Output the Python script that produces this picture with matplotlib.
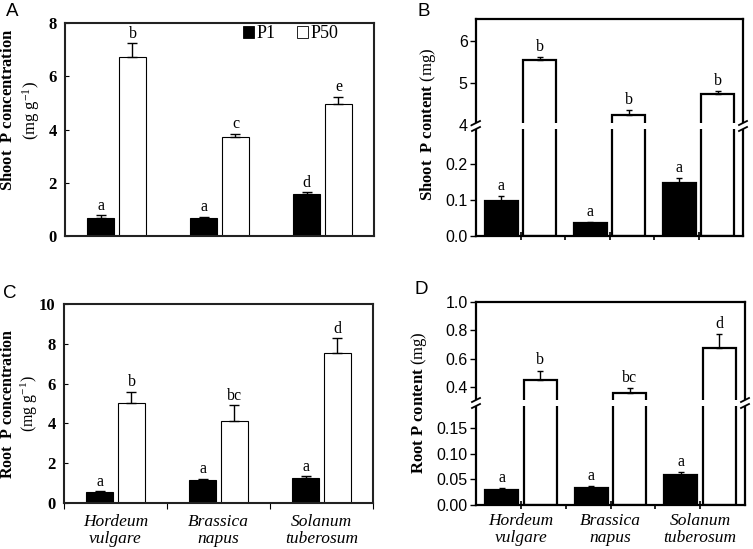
import matplotlib
matplotlib.use("Agg")
import matplotlib.pyplot as plt
from matplotlib.patches import Rectangle, Patch
from matplotlib.lines import Line2D
from matplotlib.ticker import FixedLocator, FormatStrFormatter
import numpy as np

plt.rcParams['mathtext.fontset'] = 'custom'
plt.rcParams['mathtext.rm'] = 'Liberation Serif'
plt.rcParams['mathtext.bf'] = 'Liberation Serif:bold'
plt.rcParams['mathtext.it'] = 'Liberation Serif:italic'

W, H = 753, 549
species = ["Hordeum\nvulgare", "Brassica\nnapus", "Solanum\ntuberosum"]
treatments = ["P1", "P50"]

# Panel A: shoot P concentration (mg g-1)
a_p1 = [0.68, 0.66, 1.58]
a_p1_err = [0.10, 0.06, 0.07]
a_p50 = [6.74, 3.70, 4.97]
a_p50_err = [0.50, 0.14, 0.26]
a_p1_let = ["a", "a", "d"]
a_p50_let = ["b", "c", "e"]

# Panel B: shoot P content (mg)
b_p1 = [0.097, 0.035, 0.147]
b_p1_err = [0.013, 0.004, 0.013]
b_p50 = [5.55, 4.25, 4.74]
b_p50_err = [0.06, 0.11, 0.08]
b_p1_let = ["a", "a", "a"]
b_p50_let = ["b", "b", "b"]

# Panel C: root P concentration (mg g-1)
c_p1 = [0.55, 1.18, 1.25]
c_p1_err = [0.05, 0.04, 0.09]
c_p50 = [5.05, 4.13, 7.52]
c_p50_err = [0.55, 0.80, 0.75]
c_p1_let = ["a", "a", "a"]
c_p50_let = ["b", "bc", "d"]

# Panel D: root P content (mg)
d_p1 = [0.030, 0.033, 0.058]
d_p1_err = [0.003, 0.004, 0.007]
d_p50 = [0.445, 0.358, 0.675]
d_p50_err = [0.07, 0.035, 0.10]
d_p1_let = ["a", "a", "a"]
d_p50_let = ["b", "bc", "d"]

SERIF = "Liberation Serif"
SANS = "Liberation Sans"

fig = plt.figure(figsize=(W / 100, H / 100), dpi=100)


def px_axes(l, t, r, b):
    return fig.add_axes([l / W, 1 - b / H, (r - l) / W, (b - t) / H])


def fx(x):
    return x / W


def fy(y):
    return 1 - y / H


x = np.arange(3)


def draw_bars(ax, p1, p1e, p50, p50e, width, off, lw, capsize, letters=None, let_fs=11.5):
    ax.bar(x - off, p1, width, color="black", edgecolor="black", linewidth=lw, zorder=2)
    ax.errorbar(x - off, p1, yerr=[np.zeros(3), p1e], fmt="none", ecolor="black",
                elinewidth=1.0, capsize=capsize, capthick=1.0, zorder=3)
    ax.bar(x + off, p50, width, color="white", edgecolor="black", linewidth=lw, zorder=2)
    ax.errorbar(x + off, p50, yerr=[np.zeros(3), p50e], fmt="none", ecolor="black",
                elinewidth=1.0, capsize=capsize, capthick=1.0, zorder=3)
    if letters:
        for xi, v, e, t in zip(x - off, p1, p1e, letters[0]):
            ax.annotate(t, (xi, v + e), xytext=(0, 1), textcoords="offset points",
                        ha="center", va="bottom", fontsize=let_fs, family=SERIF)
        for xi, v, e, t in zip(x + off, p50, p50e, letters[1]):
            ax.annotate(t, (xi, v + e), xytext=(0, 1), textcoords="offset points",
                        ha="center", va="bottom", fontsize=let_fs, family=SERIF)


def style_serif_axes(ax, ylim, yticks):
    ax.set_xlim(-0.5, 2.5)
    ax.set_ylim(*ylim)
    ax.set_yticks(yticks)
    ax.tick_params(axis="y", direction="in", length=3, width=0.8, pad=6)
    for lab in ax.get_yticklabels():
        lab.set_family(SERIF)
        lab.set_fontweight("bold")
        lab.set_fontsize(12)
    for s in ax.spines.values():
        s.set_linewidth(1.5)
        s.set_color("#222222")


# ---------------- Panel A ----------------
axA = px_axes(65, 23, 374, 236)
draw_bars(axA, a_p1, a_p1_err, a_p50, a_p50_err, 0.27, 0.155, 0.8, 3.5,
          letters=(a_p1_let, a_p50_let))
style_serif_axes(axA, (0, 8), [0, 2, 4, 6, 8])
axA.set_xticks([])
handles = [Patch(facecolor="black", edgecolor="black", linewidth=0.6),
           Patch(facecolor="white", edgecolor="black", linewidth=0.6)]
axA.legend(handles, treatments, ncol=2, frameon=False, loc="center left",
           bbox_to_anchor=((243 - 65) / 309, 1 - (34 - 23) / 213),
           handlelength=0.6, handleheight=0.6, handletextpad=0.15,
           columnspacing=1.2, borderpad=0, borderaxespad=0,
           prop={"family": SERIF, "size": 13})

# ---------------- Panel C ----------------
axC = px_axes(64, 304, 373, 503)
draw_bars(axC, c_p1, c_p1_err, c_p50, c_p50_err, 0.27, 0.155, 0.8, 3.5,
          letters=(c_p1_let, c_p50_let))
style_serif_axes(axC, (0, 10), [0, 2, 4, 6, 8, 10])
axC.xaxis.set_major_locator(FixedLocator([-0.5, 0.5, 1.5, 2.5]))
axC.xaxis.set_minor_locator(FixedLocator(x))
axC.set_xticklabels([])
axC.set_xticklabels(species, minor=True)
axC.tick_params(axis="x", which="major", direction="out", length=4, width=0.8)
axC.tick_params(axis="x", which="minor", length=0, pad=8)
for lab in axC.get_xticklabels(minor=True):
    lab.set_family(SERIF)
    lab.set_style("italic")
    lab.set_fontsize(12.5)
    lab.set_linespacing(1.05)


# ---------------- Broken panels B and D ----------------
def broken_panel(l, r, top, brk, bot, p1, p1e, p50, p50e, letters,
                 lo_lim, lo_ticks, lo_fmt, hi_lim, hi_ticks, hi_fmt, xlabels):
    axU = px_axes(l, top, r, brk)
    axL = px_axes(l, brk, r, bot)
    for ax in (axU, axL):
        draw_bars(ax, p1, p1e, p50, p50e, 0.37, 0.215, 1.6, 2.5, letters=None)
        ax.set_xlim(-0.5, 2.5)
        for s in ax.spines.values():
            s.set_linewidth(1.6)
            s.set_color("black")
        ax.tick_params(axis="y", direction="out", length=4, width=1.0, pad=2)
    for xi, v, e, t in zip(x - 0.215, p1, p1e, letters[0]):
        axL.annotate(t, (xi, v + e), xytext=(0, 1.5), textcoords="offset points",
                     ha="center", va="bottom", fontsize=11.5, family=SERIF)
    for xi, v, e, t in zip(x + 0.215, p50, p50e, letters[1]):
        axU.annotate(t, (xi, v + e), xytext=(0, 1.5), textcoords="offset points",
                     ha="center", va="bottom", fontsize=11.5, family=SERIF)
    axU.spines["bottom"].set_visible(False)
    axL.spines["top"].set_visible(False)
    axU.set_ylim(*hi_lim)
    axL.set_ylim(*lo_lim)
    axU.set_yticks(hi_ticks)
    axL.set_yticks(lo_ticks)
    axU.yaxis.set_major_formatter(FormatStrFormatter(hi_fmt))
    axL.yaxis.set_major_formatter(FormatStrFormatter(lo_fmt))
    for ax in (axU, axL):
        for lab in ax.get_yticklabels():
            lab.set_family(SANS)
            lab.set_fontsize(11.5)
    axU.set_xticks([])
    axL.xaxis.set_major_locator(FixedLocator(x))
    axL.xaxis.set_minor_locator(FixedLocator([0.5, 1.5]))
    axL.tick_params(axis="x", which="major", direction="inout", length=6, width=1.2, pad=3)
    axL.tick_params(axis="x", which="minor", direction="out", length=3, width=1.2)
    if xlabels:
        axL.set_xticklabels(species)
        for lab in axL.get_xticklabels():
            lab.set_family(SERIF)
            lab.set_style("italic")
            lab.set_fontsize(12.5)
            lab.set_linespacing(1.05)
    else:
        axL.set_xticklabels([])
    # white gap at the break + break marks
    fig.add_artist(Rectangle((fx(l - 4), fy(brk + 3)), fx(r - l + 8), 6 / H,
                             transform=fig.transFigure, facecolor="white",
                             edgecolor="none", zorder=5))
    for xs in (l, r):
        for yc in (brk - 3, brk + 3):
            fig.add_artist(Line2D([fx(xs - 4), fx(xs + 4)], [fy(yc + 2), fy(yc - 2)],
                                  transform=fig.transFigure, color="black",
                                  linewidth=1.3, zorder=6))
    return axU, axL


broken_panel(476, 743, 19, 126, 236, b_p1, b_p1_err, b_p50, b_p50_err,
             (b_p1_let, b_p50_let), (0, 0.305), [0.0, 0.1, 0.2], "%.1f",
             (3.98, 6.52), [4, 5, 6], "%d", False)
broken_panel(476, 745, 302, 403, 505, d_p1, d_p1_err, d_p50, d_p50_err,
             (d_p1_let, d_p50_let), (0, 0.1996), [0.0, 0.05, 0.10, 0.15], "%.2f",
             (0.285, 1.0), [0.4, 0.6, 0.8, 1.0], "%.1f", True)

# ---------------- Axis labels ----------------
fig.text(fx(21), fy(110), "$\\mathbf{Shoot\\ \\ P\\ concentration}$\n(mg g$^{-1}$)",
         rotation=90, ha="center", va="center", fontsize=12, family=SERIF,
         multialignment="center", linespacing=1.2)
fig.text(fx(20), fy(404), "$\\mathbf{Root\\ \\ P\\ concentration}$\n(mg g$^{-1}$)",
         rotation=90, ha="center", va="center", fontsize=11.5, family=SERIF,
         multialignment="center", linespacing=1.2)
fig.text(fx(428), fy(124), "$\\mathbf{Shoot\\ \\ P\\ content}$ (mg)",
         rotation=90, ha="center", va="center", fontsize=12, family=SERIF)
fig.text(fx(419), fy(403), "$\\mathbf{Root\\ P\\ content}$ (mg)",
         rotation=90, ha="center", va="center", fontsize=12, family=SERIF)

# panel letters
for t, px, py in [("A", 12, 12), ("B", 424, 12), ("C", 10, 294), ("D", 421, 289)]:
    fig.text(fx(px), fy(py), t, ha="center", va="center", fontsize=13.5, family=SANS)

fig.savefig("out.png", dpi=100)
